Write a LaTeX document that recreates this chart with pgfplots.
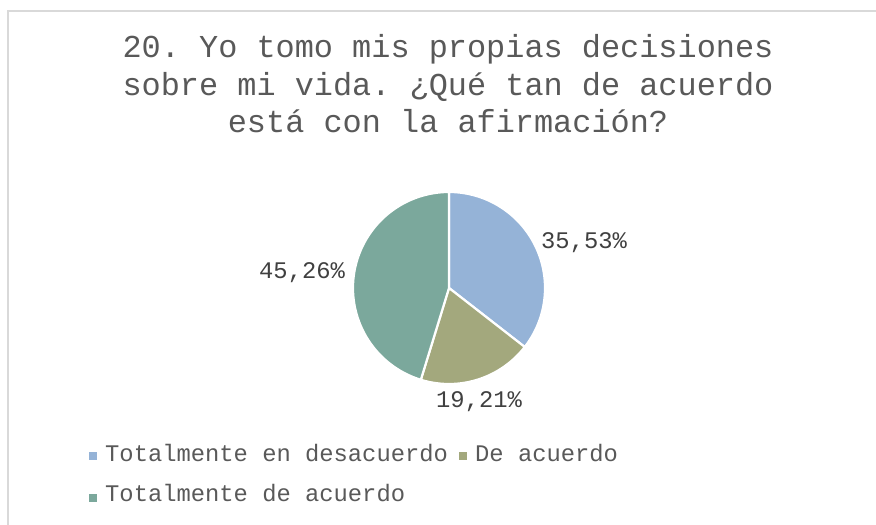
\documentclass[border=0pt]{standalone}
\usepackage{pgfplots}
\pgfplotsset{compat=1.18}
\usepackage{fontspec}
\setmainfont{Liberation Mono}
\frenchspacing
\definecolor{cBlue}{HTML}{95B3D7}
\definecolor{cOlive}{HTML}{A3A87D}
\definecolor{cTeal}{HTML}{7BA89C}
\definecolor{cTitle}{HTML}{595959}
\definecolor{cLab}{HTML}{404040}
\definecolor{cBorder}{HTML}{D9D9D9}
\begin{document}
\begin{tikzpicture}
\begin{axis}[at={(0,0)}, anchor=south west, scale only axis, width=876pt, height=525pt,
  xmin=0, xmax=876, ymin=0, ymax=525, hide axis, clip=false]
% border (top and left)
\draw[cBorder, line width=1.2pt] (axis cs:8,0) -- (axis cs:8,514) -- (axis cs:876,514);
% pie: values 35.53, 19.21, 45.26 (%), start at 90 deg, clockwise
\addplot[fill=cBlue, draw=white, line width=2.2pt, domain=-37.908:90, samples=80, variable=\t]
  ({449+96*cos(\t)},{237+96*sin(\t)}) -- (axis cs:449,237) -- cycle;
\addplot[fill=cOlive, draw=white, line width=2.2pt, domain=-107.064:-37.908, samples=50, variable=\t]
  ({449+96*cos(\t)},{237+96*sin(\t)}) -- (axis cs:449,237) -- cycle;
\addplot[fill=cTeal, draw=white, line width=2.2pt, domain=-270:-107.064, samples=100, variable=\t]
  ({449+96*cos(\t)},{237+96*sin(\t)}) -- (axis cs:449,237) -- cycle;
% title
\node[anchor=base, text=cTitle, font=\fontsize{31.9}{37.5}\selectfont, inner sep=0pt] at (axis cs:448,467) {20. Yo tomo mis propias decisiones};
\node[anchor=base, text=cTitle, font=\fontsize{31.9}{37.5}\selectfont, inner sep=0pt] at (axis cs:448,429.5) {sobre mi vida. ¿Qué tan de acuerdo};
\node[anchor=base, text=cTitle, font=\fontsize{31.9}{37.5}\selectfont, inner sep=0pt] at (axis cs:448,392) {está con la afirmación?};
% data labels
\node[anchor=base west, text=cLab, font=\fontsize{23.8}{28}\selectfont, inner sep=0pt] at (axis cs:541,276) {35,53\%};
\node[anchor=base west, text=cLab, font=\fontsize{23.8}{28}\selectfont, inner sep=0pt] at (axis cs:436,117) {19,21\%};
\node[anchor=base west, text=cLab, font=\fontsize{23.8}{28}\selectfont, inner sep=0pt] at (axis cs:259,246) {45,26\%};
% legend
\fill[cBlue] (axis cs:89,65) rectangle (axis cs:97,73);
\node[anchor=base west, text=cTitle, font=\fontsize{23.8}{28}\selectfont, inner sep=0pt] at (axis cs:105,63.3) {Totalmente en desacuerdo};
\fill[cOlive] (axis cs:459,65) rectangle (axis cs:467,73);
\node[anchor=base west, text=cTitle, font=\fontsize{23.8}{28}\selectfont, inner sep=0pt] at (axis cs:475,63.3) {De acuerdo};
\fill[cTeal] (axis cs:89,23) rectangle (axis cs:97,31);
\node[anchor=base west, text=cTitle, font=\fontsize{23.8}{28}\selectfont, inner sep=0pt] at (axis cs:105,23.3) {Totalmente de acuerdo};
\end{axis}
\pgfresetboundingbox
\useasboundingbox (0,0) rectangle (876pt,525pt);
\end{tikzpicture}
\end{document}
